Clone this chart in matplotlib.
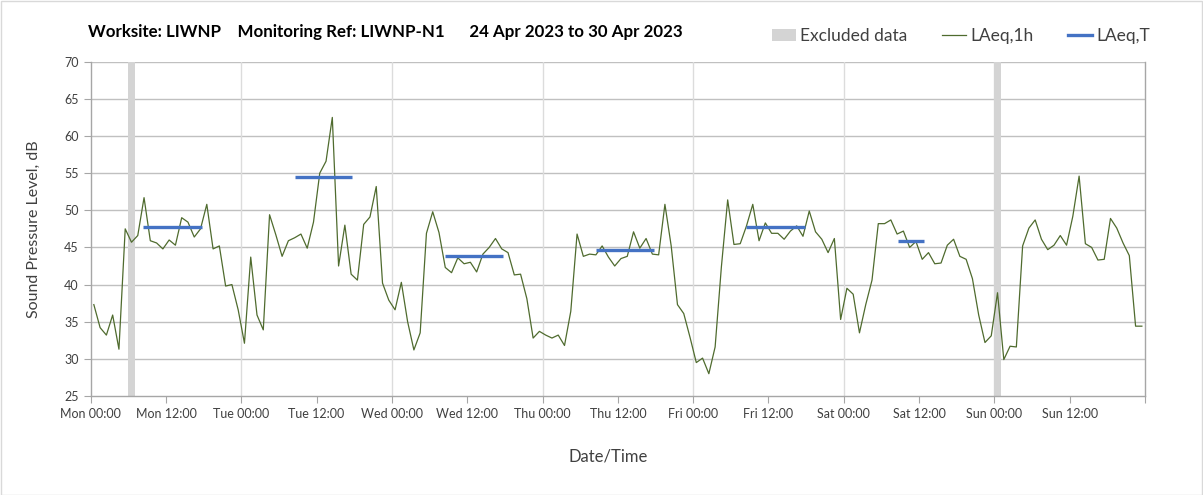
import matplotlib
matplotlib.use("Agg")
import matplotlib.pyplot as plt
from matplotlib.patches import Patch, Rectangle
from matplotlib.lines import Line2D

plt.rcParams['font.family'] = ['Lato', 'DejaVu Sans']

# ---- data ----
hours = [h + 0.5 for h in range(168)]
laeq_1h = [
    37.3, 34.2, 33.2, 35.9, 31.3, 47.5, 45.7, 46.6, 51.7, 45.9,
    45.6, 44.8, 46.0, 45.3, 49.0, 48.4, 46.4, 47.5, 50.8, 44.8,
    45.2, 39.8, 40.0, 36.6, 32.1, 43.7, 35.9, 33.9, 49.4, 46.7,
    43.8, 45.9, 46.3, 46.8, 44.9, 48.4, 55.0, 56.6, 62.5, 42.5,
    48.0, 41.4, 40.6, 48.1, 49.1, 53.2, 40.2, 37.9, 36.6, 40.3,
    35.0, 31.2, 33.5, 46.9, 49.8, 47.0, 42.3, 41.6, 43.6, 42.8,
    43.0, 41.7, 44.1, 45.0, 46.2, 44.8, 44.3, 41.3, 41.4, 38.1,
    32.8, 33.7, 33.2, 32.8, 33.2, 31.8, 36.4, 46.8, 43.8, 44.1,
    44.0, 45.2, 43.7, 42.5, 43.5, 43.8, 47.1, 44.9, 46.2, 44.1,
    44.0, 50.8, 45.2, 37.3, 36.1, 32.9, 29.5, 30.1, 28.0, 31.6,
    42.4, 51.4, 45.4, 45.5, 47.9, 50.8, 45.9, 48.3, 46.9, 46.9,
    46.1, 47.2, 47.9, 46.5, 49.9, 47.1, 46.1, 44.3, 46.2, 35.3,
    39.5, 38.7, 33.5, 37.3, 40.6, 48.2, 48.2, 48.7, 46.8, 47.2,
    45.0, 45.8, 43.4, 44.3, 42.8, 42.9, 45.3, 46.1, 43.8, 43.4,
    40.8, 35.9, 32.2, 33.1, 38.9, 29.9, 31.7, 31.6, 45.2, 47.6,
    48.7, 46.1, 44.7, 45.3, 46.6, 45.3, 49.2, 54.6, 45.5, 45.0,
    43.3, 43.4, 48.9, 47.6, 45.6, 43.9, 34.4, 34.4,
]
laeq_t_start = [8.4, 32.5, 56.4, 80.5, 104.5, 128.6]
laeq_t_end = [17.7, 41.7, 65.7, 89.8, 113.8, 132.8]
laeq_t_level = [47.7, 54.5, 43.8, 44.7, 47.7, 45.8]
excluded_start = [6, 144]
excluded_end = [7, 145]
tick_labels = ['Mon 00:00', 'Mon 12:00', 'Tue 00:00', 'Tue 12:00', 'Wed 00:00',
               'Wed 12:00', 'Thu 00:00', 'Thu 12:00', 'Fri 00:00', 'Fri 12:00',
               'Sat 00:00', 'Sat 12:00', 'Sun 00:00', 'Sun 12:00', '']
tick_hours = list(range(0, 169, 12))

# ---- figure ----
W, H = 1203, 495
fig = plt.figure(figsize=(W / 100, H / 100), dpi=100)
ax = fig.add_axes([90.7 / W, 1 - 396 / H, (1145 - 90.7) / W, (396 - 61.7) / H])

green = '#4f6b2e'
blue = '#4472c4'
exgray = '#d4d4d4'

for s, e in zip(excluded_start, excluded_end):
    ax.axvspan(s, e, color=exgray, lw=0, zorder=1)

ax.plot(hours, laeq_1h, color=green, lw=0.9, zorder=3)
for s, e, v in zip(laeq_t_start, laeq_t_end, laeq_t_level):
    ax.plot([s, e], [v, v], color=blue, lw=2.4, solid_capstyle='butt', zorder=4)

ax.set_xlim(0, 168)
ax.set_ylim(25, 70)
ax.set_yticks(range(25, 71, 5))
ax.set_xticks(tick_hours)
ax.set_xticklabels(tick_labels)

# grid
for y in range(30, 71, 5):
    ax.axhline(y, color='#c0c0c0', lw=1.0, zorder=0)
for d in range(24, 168, 24):
    ax.axvline(d, color='#dcdcdc', lw=1.0, zorder=0)

for sp in ['left', 'bottom', 'right']:
    ax.spines[sp].set_color('#a6a6a6')
    ax.spines[sp].set_linewidth(1.0)
ax.spines['top'].set_visible(False)
ax.tick_params(axis='both', direction='out', length=5, color='#a6a6a6',
               labelsize=9, labelcolor='#404040')
ax.tick_params(axis='x', pad=4)

ax.set_ylabel('Sound Pressure Level, dB', fontsize=11.5, color='#404040', labelpad=17)
fig.text(608 / W, 1 - 456 / H, 'Date/Time', fontsize=12, color='#404040',
         ha='center', va='center')

fig.text(88 / W, 1 - 32 / H,
         'Worksite: LIWNP    Monitoring Ref: LIWNP-N1      24 Apr 2023 to 30 Apr 2023',
         fontsize=12.2, fontweight='bold', ha='left', va='center', color='black')

handles = [Patch(facecolor=exgray, edgecolor='none'),
           Line2D([], [], color=green, lw=0.9),
           Line2D([], [], color=blue, lw=2.4)]
fig.legend(handles, ['Excluded data', 'LAeq,1h', 'LAeq,T'], ncol=3,
           loc='center', bbox_to_anchor=(961 / W, 1 - 36 / H), frameon=False,
           fontsize=12.5, handlelength=1.38, handleheight=0.65, columnspacing=2.0,
           handletextpad=0.25, labelcolor='#404040')

fig.patches.append(Rectangle((0.5 / W, 0.5 / H), 1 - 1.5 / W, 1 - 1.5 / H,
                             transform=fig.transFigure, fill=False,
                             edgecolor='#d9d9d9', lw=1))

fig.savefig('out.png', dpi=100)
